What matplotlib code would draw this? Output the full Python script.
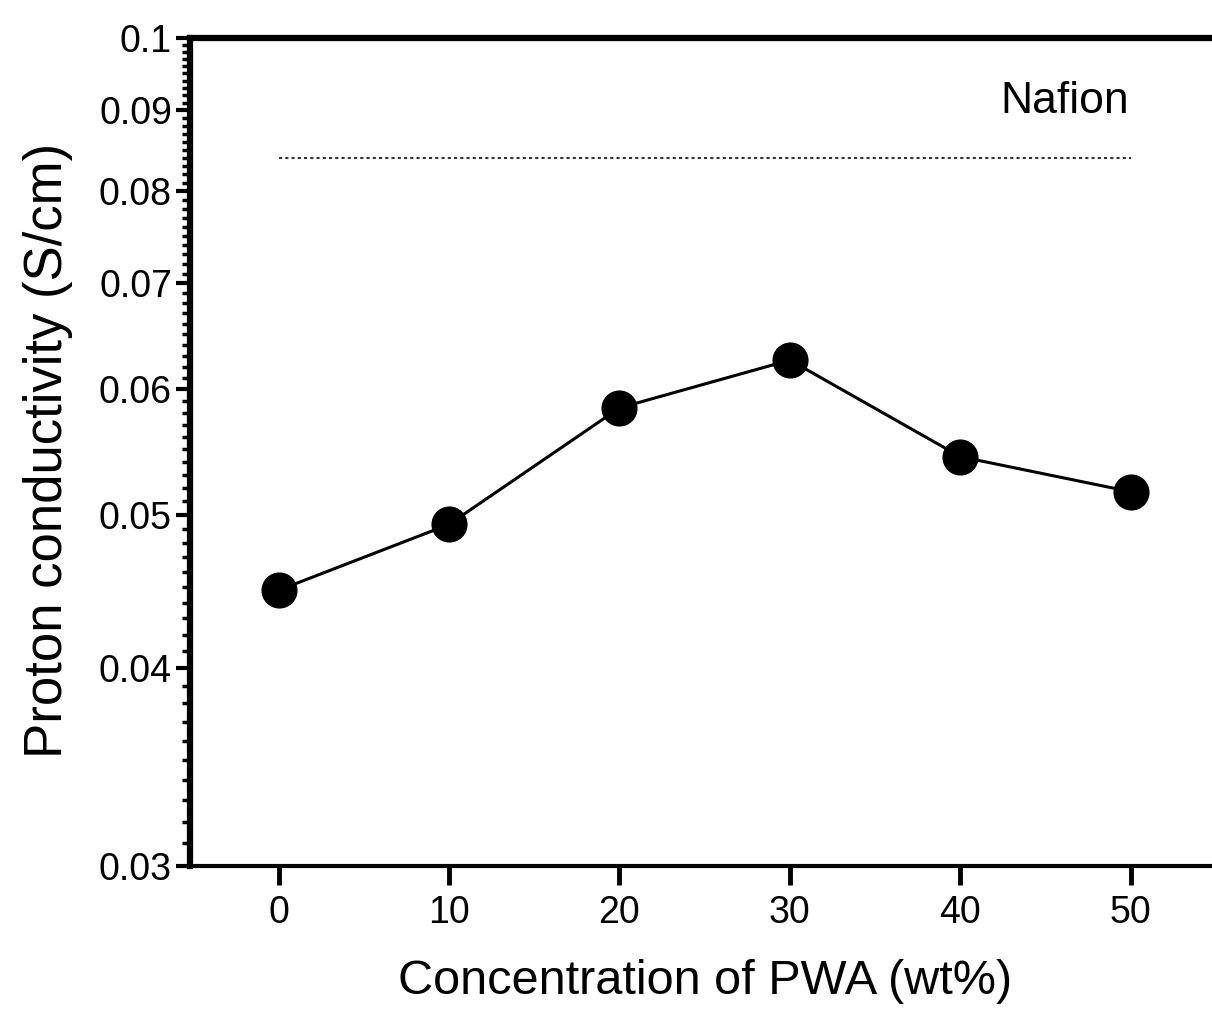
import matplotlib
matplotlib.use("Agg")
import matplotlib.pyplot as plt
from matplotlib.ticker import FixedLocator, NullFormatter
import numpy as np

plt.rcParams['font.family'] = ['Liberation Sans', 'DejaVu Sans']

pwa_conc = [0, 10, 20, 30, 40, 50]
conductivity = [0.0448, 0.0493, 0.0584, 0.0626, 0.0544, 0.0517]
nafion_value = 0.0840
nafion_x = [0, 50]
x_ticks = [0, 10, 20, 30, 40, 50]
y_ticks = [0.03, 0.04, 0.05, 0.06, 0.07, 0.08, 0.09, 0.1]
y_tick_labels = ['0.03', '0.04', '0.05', '0.06', '0.07', '0.08', '0.09', '0.1']

fig = plt.figure(figsize=(12.12, 10.19), dpi=100)
ax = fig.add_axes([190/1212, 153/1019, 1026/1212, 828/1019])

ax.plot(pwa_conc, conductivity, color='black', lw=2.2, marker='o',
        markersize=25, markerfacecolor='black', markeredgecolor='black', zorder=3)
ax.plot(nafion_x, [nafion_value, nafion_value], color='#333333', lw=1.5,
        linestyle=(0, (1.5, 1.5)), zorder=2)
ax.text(46.1, 0.0912, 'Nafion', fontsize=32, ha='center', va='center')

ax.set_yscale('log')
ax.set_ylim(0.03, 0.1)
ax.set_xlim(-5.2, 55)

ax.yaxis.set_major_locator(FixedLocator(y_ticks))
ax.set_yticklabels(y_tick_labels)
minor = [round(v, 3) for v in np.arange(0.031, 0.1, 0.001) if round(v, 3) not in y_ticks]
ax.yaxis.set_minor_locator(FixedLocator(minor))
ax.yaxis.set_minor_formatter(NullFormatter())
ax.set_xticks(x_ticks)
ax.set_xticklabels([str(v) for v in x_ticks])

ax.tick_params(axis='y', which='major', direction='out', length=10, width=3,
               labelsize=27, pad=3)
ax.tick_params(axis='y', which='minor', direction='out', length=6, width=2.5)
ax.tick_params(axis='x', which='major', direction='out', length=14, width=3.5,
               labelsize=27, pad=7)

for side in ['left', 'top']:
    ax.spines[side].set_linewidth(4.5)
ax.spines['bottom'].set_linewidth(3)
ax.spines['right'].set_visible(False)

ax.set_xlabel('Concentration of PWA (wt%)', fontsize=35)
ax.set_ylabel('Proton conductivity (S/cm)', fontsize=38)
ax.xaxis.set_label_coords(0.502, -0.112)
ax.yaxis.set_label_coords(-0.114, 0.502)

fig.savefig('out.png', dpi=100)
